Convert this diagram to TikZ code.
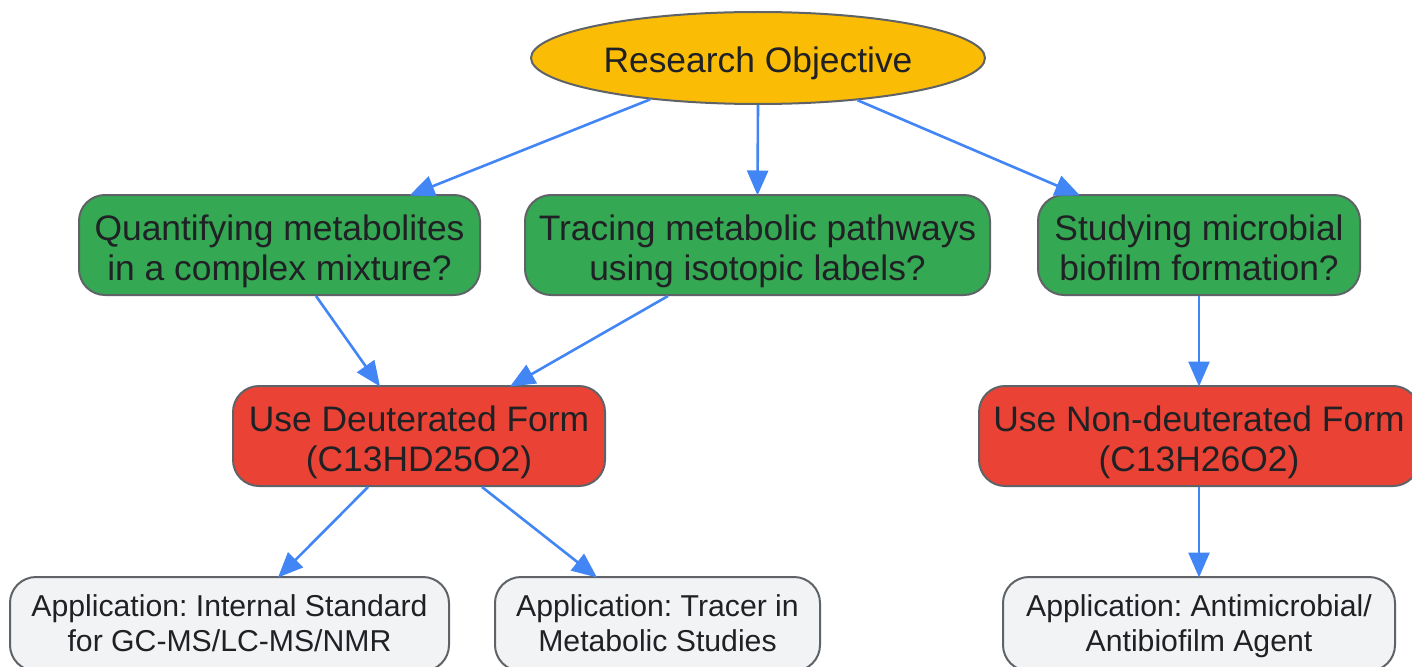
\documentclass[tikz,border=0pt]{standalone}
\usepackage{fontspec}
\setmainfont{Liberation Sans}
\usetikzlibrary{shapes.geometric,arrows.meta,calc}
\definecolor{cyel}{HTML}{FBBC05}
\definecolor{cgrn}{HTML}{34A853}
\definecolor{cred}{HTML}{EA4335}
\definecolor{cgry}{HTML}{F1F3F4}
\definecolor{cbrd}{HTML}{5F6368}
\definecolor{ctxt}{HTML}{202124}
\definecolor{cblu}{HTML}{4285F4}
\frenchspacing
\newcommand\lowtext[2]{\raisebox{-#1}[\height][\depth]{\begin{tabular}{@{}c@{}}#2\end{tabular}}}
\begin{document}
\begin{tikzpicture}[x=1pt,y=-1pt,
  box/.style={draw=cbrd,line width=2pt,rounded corners=26pt,minimum height=100pt,inner sep=0pt,align=center,text=ctxt,font=\fontsize{35.4}{40}\selectfont},
  qbox/.style={box,fill=cgrn},
  ubox/.style={box,fill=cred},
  abox/.style={box,fill=cgry,minimum height=94pt,font=\fontsize{30.2}{35}\selectfont},
  conn/.style={draw=cblu,line width=2.6pt,-{Triangle[length=25pt,width=21pt]}}]
\useasboundingbox (0,0) rectangle (1412,666);
\node[ellipse,draw=cbrd,line width=2pt,fill=cyel,minimum width=454pt,minimum height=92pt,inner sep=0pt,text=ctxt,font=\fontsize{35.4}{40}\selectfont] (obj) at (758,58) {\lowtext{6.5pt}{Research Objective}};
\node[qbox,minimum width=401pt] (g1) at (279.5,245) {\lowtext{7pt}{Quantifying metabolites\\in a complex mixture?}};
\node[qbox,minimum width=465pt] (g2) at (757.5,245) {\lowtext{7pt}{Tracing metabolic pathways\\using isotopic labels?}};
\node[qbox,minimum width=322pt] (g3) at (1199,245) {\lowtext{7pt}{Studying microbial\\biofilm formation?}};
\node[ubox,minimum width=372pt] (r1) at (419,436) {\lowtext{7pt}{Use Deuterated Form\\(C13HD25O2)}};
\node[ubox,minimum width=440pt] (r2) at (1199,436) {\lowtext{7pt}{Use Non-deuterated Form\\(C13H26O2)}};
\node[abox,minimum width=439pt] (a1) at (229.5,624) {\lowtext{3pt}{Application: Internal Standard\\for GC-MS/LC-MS/NMR}};
\node[abox,minimum width=325pt] (a2) at (657.5,624) {\lowtext{3pt}{Application: Tracer in\\Metabolic Studies}};
\node[abox,minimum width=392pt] (a3) at (1199,624) {\lowtext{3pt}{Application: Antimicrobial/\\Antibiofilm Agent}};
\draw[conn] (obj.201.7) -- ([xshift=130pt,yshift=-1.5pt]g1.north);
\draw[conn] (obj.south) -- ([yshift=-1.5pt]g2.north);
\draw[conn] (obj.-23.2) -- ([xshift=-119pt,yshift=-1.5pt]g3.north);
\draw[conn] ([xshift=36.5pt]g1.south) -- ([xshift=-39pt,yshift=-1.5pt]r1.north);
\draw[conn] ([xshift=-89.5pt]g2.south) -- ([xshift=91pt,yshift=-1.5pt]r1.north);
\draw[conn] (g3.south) -- ([yshift=-1.5pt]r2.north);
\draw[conn] ([xshift=-51pt]r1.south) -- ([xshift=48.5pt,yshift=-1.5pt]a1.north);
\draw[conn] ([xshift=63pt]r1.south) -- ([xshift=-60.5pt,yshift=-1.5pt]a2.north);
\draw[conn] (r2.south) -- ([yshift=-1.5pt]a3.north);
\end{tikzpicture}
\end{document}
